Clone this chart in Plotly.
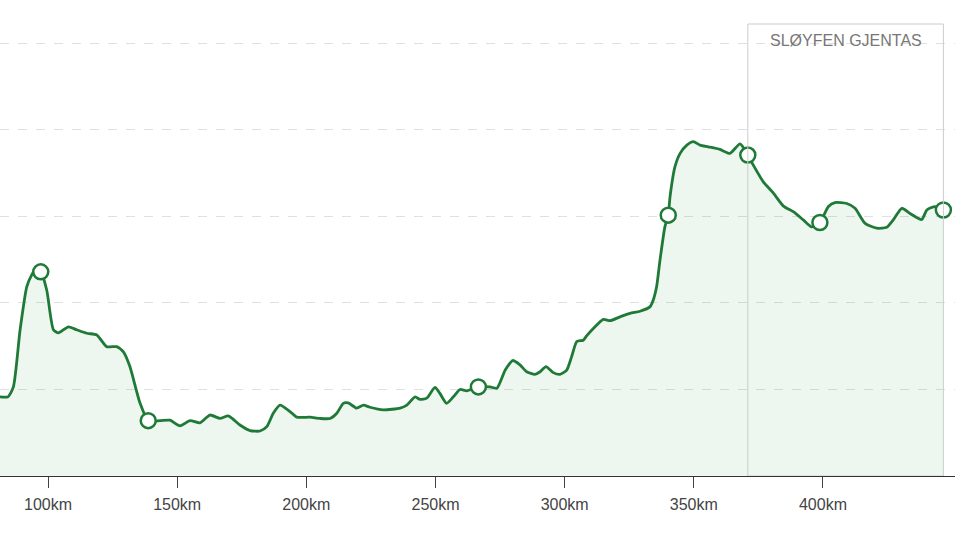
import plotly.graph_objects as go

# Distance along route (km) and elevation (m)
km = [81.4, 84.5, 86.6, 89.2, 91.8, 93.7, 95.0, 97.2, 99.5, 102.1, 104.0, 107.9, 111.1, 115.0,
      118.9, 122.7, 126.6, 129.2, 131.7, 135.6, 138.8, 143.4, 147.2, 151.1, 155.0, 158.8,
      162.7, 166.6, 169.8, 174.3, 178.2, 182.1, 184.7, 187.2, 189.8, 193.7, 196.3, 201.4,
      205.3, 209.2, 211.8, 214.3, 216.2, 219.5, 222.1, 224.6, 229.8, 236.3, 238.9, 242.1,
      244.0, 246.6, 249.8, 251.7, 254.3, 256.9, 259.5, 262.1, 266.6, 271.1, 273.8, 277.0,
      279.9, 282.7, 285.3, 288.5, 290.5, 292.8, 295.6, 298.2, 300.8, 302.7, 304.7, 307.2,
      308.5, 311.1, 315.0, 317.6, 321.4, 325.3, 329.2, 333.0, 334.3, 335.6, 336.9, 338.8,
      340.1, 340.8, 342.7, 344.7, 347.3, 349.8, 352.4, 355.6, 360.1, 364.0, 367.9, 370.9,
      373.0, 376.9, 380.8, 384.7, 388.5, 392.4, 395.6, 398.8, 402.1, 404.6, 409.2, 412.4,
      416.3, 420.8, 424.7, 427.2, 430.5, 433.7, 438.2, 440.2, 443.4, 446.6]
elev = [183, 183, 206, 338, 438, 465, 476, 472, 430, 338, 331, 345, 338, 330,
        326, 299, 299, 287, 253, 169, 128, 128, 129, 116, 128, 123,
        141, 133, 139, 118, 105, 104, 114, 145, 164, 149, 136, 136,
        133, 133, 145, 168, 169, 157, 164, 159, 153, 157, 164, 183,
        177, 180, 205, 191, 168, 183, 200, 197, 206, 206, 203, 245,
        267, 257, 241, 235, 241, 253, 239, 235, 245, 276, 311, 314,
        324, 341, 362, 359, 368, 376, 381, 391, 407, 438, 499, 576,
        603, 646, 715, 746, 765, 773, 765, 761, 755, 746, 768, 742,
        719, 680, 654, 624, 611, 592, 576, 586, 623, 632, 630, 619,
        584, 573, 575, 592, 619, 607, 593, 615, 623, 615]

# Waypoint markers
marker_km = [97.2, 138.8, 266.6, 340.1, 370.9, 398.8, 446.6]
marker_elev = [472, 128, 206, 603, 742, 586, 615]

# X tick labels
tick_vals = [100, 150, 200, 250, 300, 350, 400]
tick_text = [f"{v}km" for v in tick_vals]

# Repeated loop section
loop_start_km = 370.9
loop_end_km = 446.6
loop_label = "SLØYFEN GJENTAS"

green = "#1f7a38"

fig = go.Figure()
fig.add_trace(go.Scatter(
    x=km, y=elev, mode="lines",
    line=dict(color=green, width=2.8, shape="spline", smoothing=0.6),
    fill="tozeroy", fillcolor="rgba(60,170,80,0.09)",
    hoverinfo="skip", showlegend=False,
))
fig.add_trace(go.Scatter(
    x=marker_km, y=marker_elev, mode="markers",
    marker=dict(size=15, color="white", line=dict(color=green, width=2.5)),
    hoverinfo="skip", showlegend=False,
))

fig.add_shape(type="rect", xref="x", yref="y",
              x0=loop_start_km, x1=loop_end_km, y0=0, y1=1045,
              line=dict(color="#cccccc", width=1), fillcolor="rgba(0,0,0,0)",
              layer="above")
fig.add_annotation(x=(loop_start_km + loop_end_km) / 2, y=1006, xref="x", yref="y",
                   text=loop_label, showarrow=False,
                   font=dict(family="Liberation Sans, Arial", size=16, color="#777777"))

fig.update_layout(
    width=960, height=540,
    margin=dict(l=0, r=5, t=0, b=64),
    paper_bgcolor="white", plot_bgcolor="white",
    font=dict(family="Liberation Sans, Arial", size=16, color="#444444"),
    xaxis=dict(
        range=[81.42, 451.1], tickmode="array", tickvals=tick_vals, ticktext=tick_text,
        ticks="outside", ticklen=11, tickcolor="#444444", tickwidth=1,
        showline=True, linecolor="#333333", linewidth=1,
        showgrid=False, zeroline=False, ticklabelstandoff=3,
        tickfont=dict(size=16, color="#444444"),
    ),
    yaxis=dict(
        range=[0, 1100.5], tickvals=[200, 400, 600, 800, 1000],
        showticklabels=False, showgrid=True, gridcolor="#e0e0e0", griddash="dash",
        gridwidth=1, zeroline=False, showline=False,
    ),
)

fig.write_html("out.html")
